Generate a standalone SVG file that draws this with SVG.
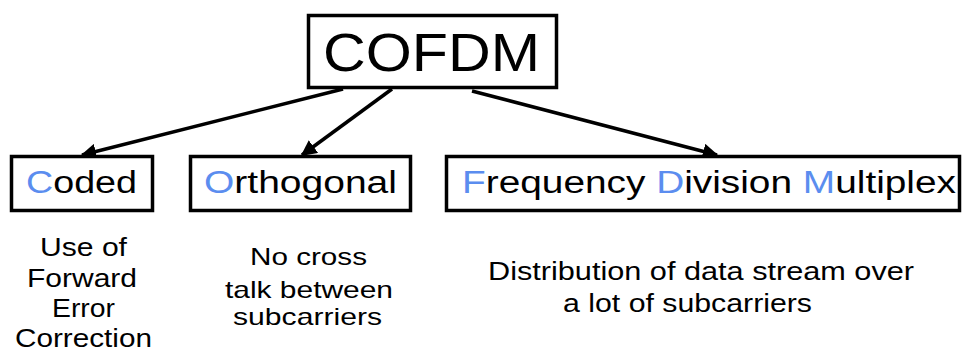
<svg xmlns="http://www.w3.org/2000/svg" width="964" height="352" viewBox="0 0 964 352">
<defs>
<style>
.box{fill:#fff;stroke:#000;stroke-width:3.5}
.t{font-family:"Liberation Sans",Arial,sans-serif;fill:#000}
.b{fill:#5B8DEF}
.c{stroke:#000;stroke-width:3.5;fill:none}
</style>
<marker id="ah" viewBox="0 0 10 10" refX="9" refY="5" markerWidth="4.5" markerHeight="4.5" orient="auto" markerUnits="strokeWidth">
<path d="M0,0 L10,5 L0,10 z" fill="#000"/>
</marker>
</defs>
<rect width="964" height="352" fill="#fff"/>
<g id="connectors">
<line class="c" x1="343" y1="89" x2="82" y2="155" marker-end="url(#ah)"/>
<line class="c" x1="392" y1="89" x2="302" y2="155" marker-end="url(#ah)"/>
<line class="c" x1="472" y1="91" x2="717" y2="155" marker-end="url(#ah)"/>
</g>
<g id="cofdm">
<rect class="box" x="308.5" y="15.5" width="248" height="72"/>
<text class="t" x="323" y="71" font-size="54" textLength="217" lengthAdjust="spacingAndGlyphs">COFDM</text>
</g>
<g id="coded">
<rect class="box" x="11.5" y="156.5" width="141" height="54"/>
<text class="t" x="26" y="193" font-size="31" textLength="111" lengthAdjust="spacingAndGlyphs"><tspan class="b">C</tspan>oded</text>
</g>
<g id="orthogonal">
<rect class="box" x="190.5" y="156.5" width="220" height="54"/>
<text class="t" x="204" y="193" font-size="31" textLength="193" lengthAdjust="spacingAndGlyphs"><tspan class="b">O</tspan>rthogonal</text>
</g>
<g id="fdm">
<rect class="box" x="446.5" y="156.5" width="513" height="54"/>
<text class="t" x="462" y="193" font-size="31" textLength="494" lengthAdjust="spacingAndGlyphs"><tspan class="b">F</tspan>requency <tspan class="b">D</tspan>ivision <tspan class="b">M</tspan>ultiplex</text>
</g>
<g id="coded-desc" class="t" font-size="25">
<text x="40" y="256" textLength="87" lengthAdjust="spacingAndGlyphs">Use of</text>
<text x="27" y="287" textLength="110" lengthAdjust="spacingAndGlyphs">Forward</text>
<text x="52" y="317" textLength="63" lengthAdjust="spacingAndGlyphs">Error</text>
<text x="15" y="347" textLength="137" lengthAdjust="spacingAndGlyphs">Correction</text>
</g>
<g id="orthogonal-desc" class="t" font-size="24">
<text x="250" y="265" textLength="117" lengthAdjust="spacingAndGlyphs">No cross</text>
<text x="225" y="298" textLength="168" lengthAdjust="spacingAndGlyphs">talk between</text>
<text x="233" y="325" textLength="149" lengthAdjust="spacingAndGlyphs">subcarriers</text>
</g>
<g id="fdm-desc" class="t" font-size="25">
<text x="488" y="280" textLength="426" lengthAdjust="spacingAndGlyphs">Distribution of data stream over</text>
<text x="563" y="312" textLength="249" lengthAdjust="spacingAndGlyphs">a lot of subcarriers</text>
</g>
</svg>
